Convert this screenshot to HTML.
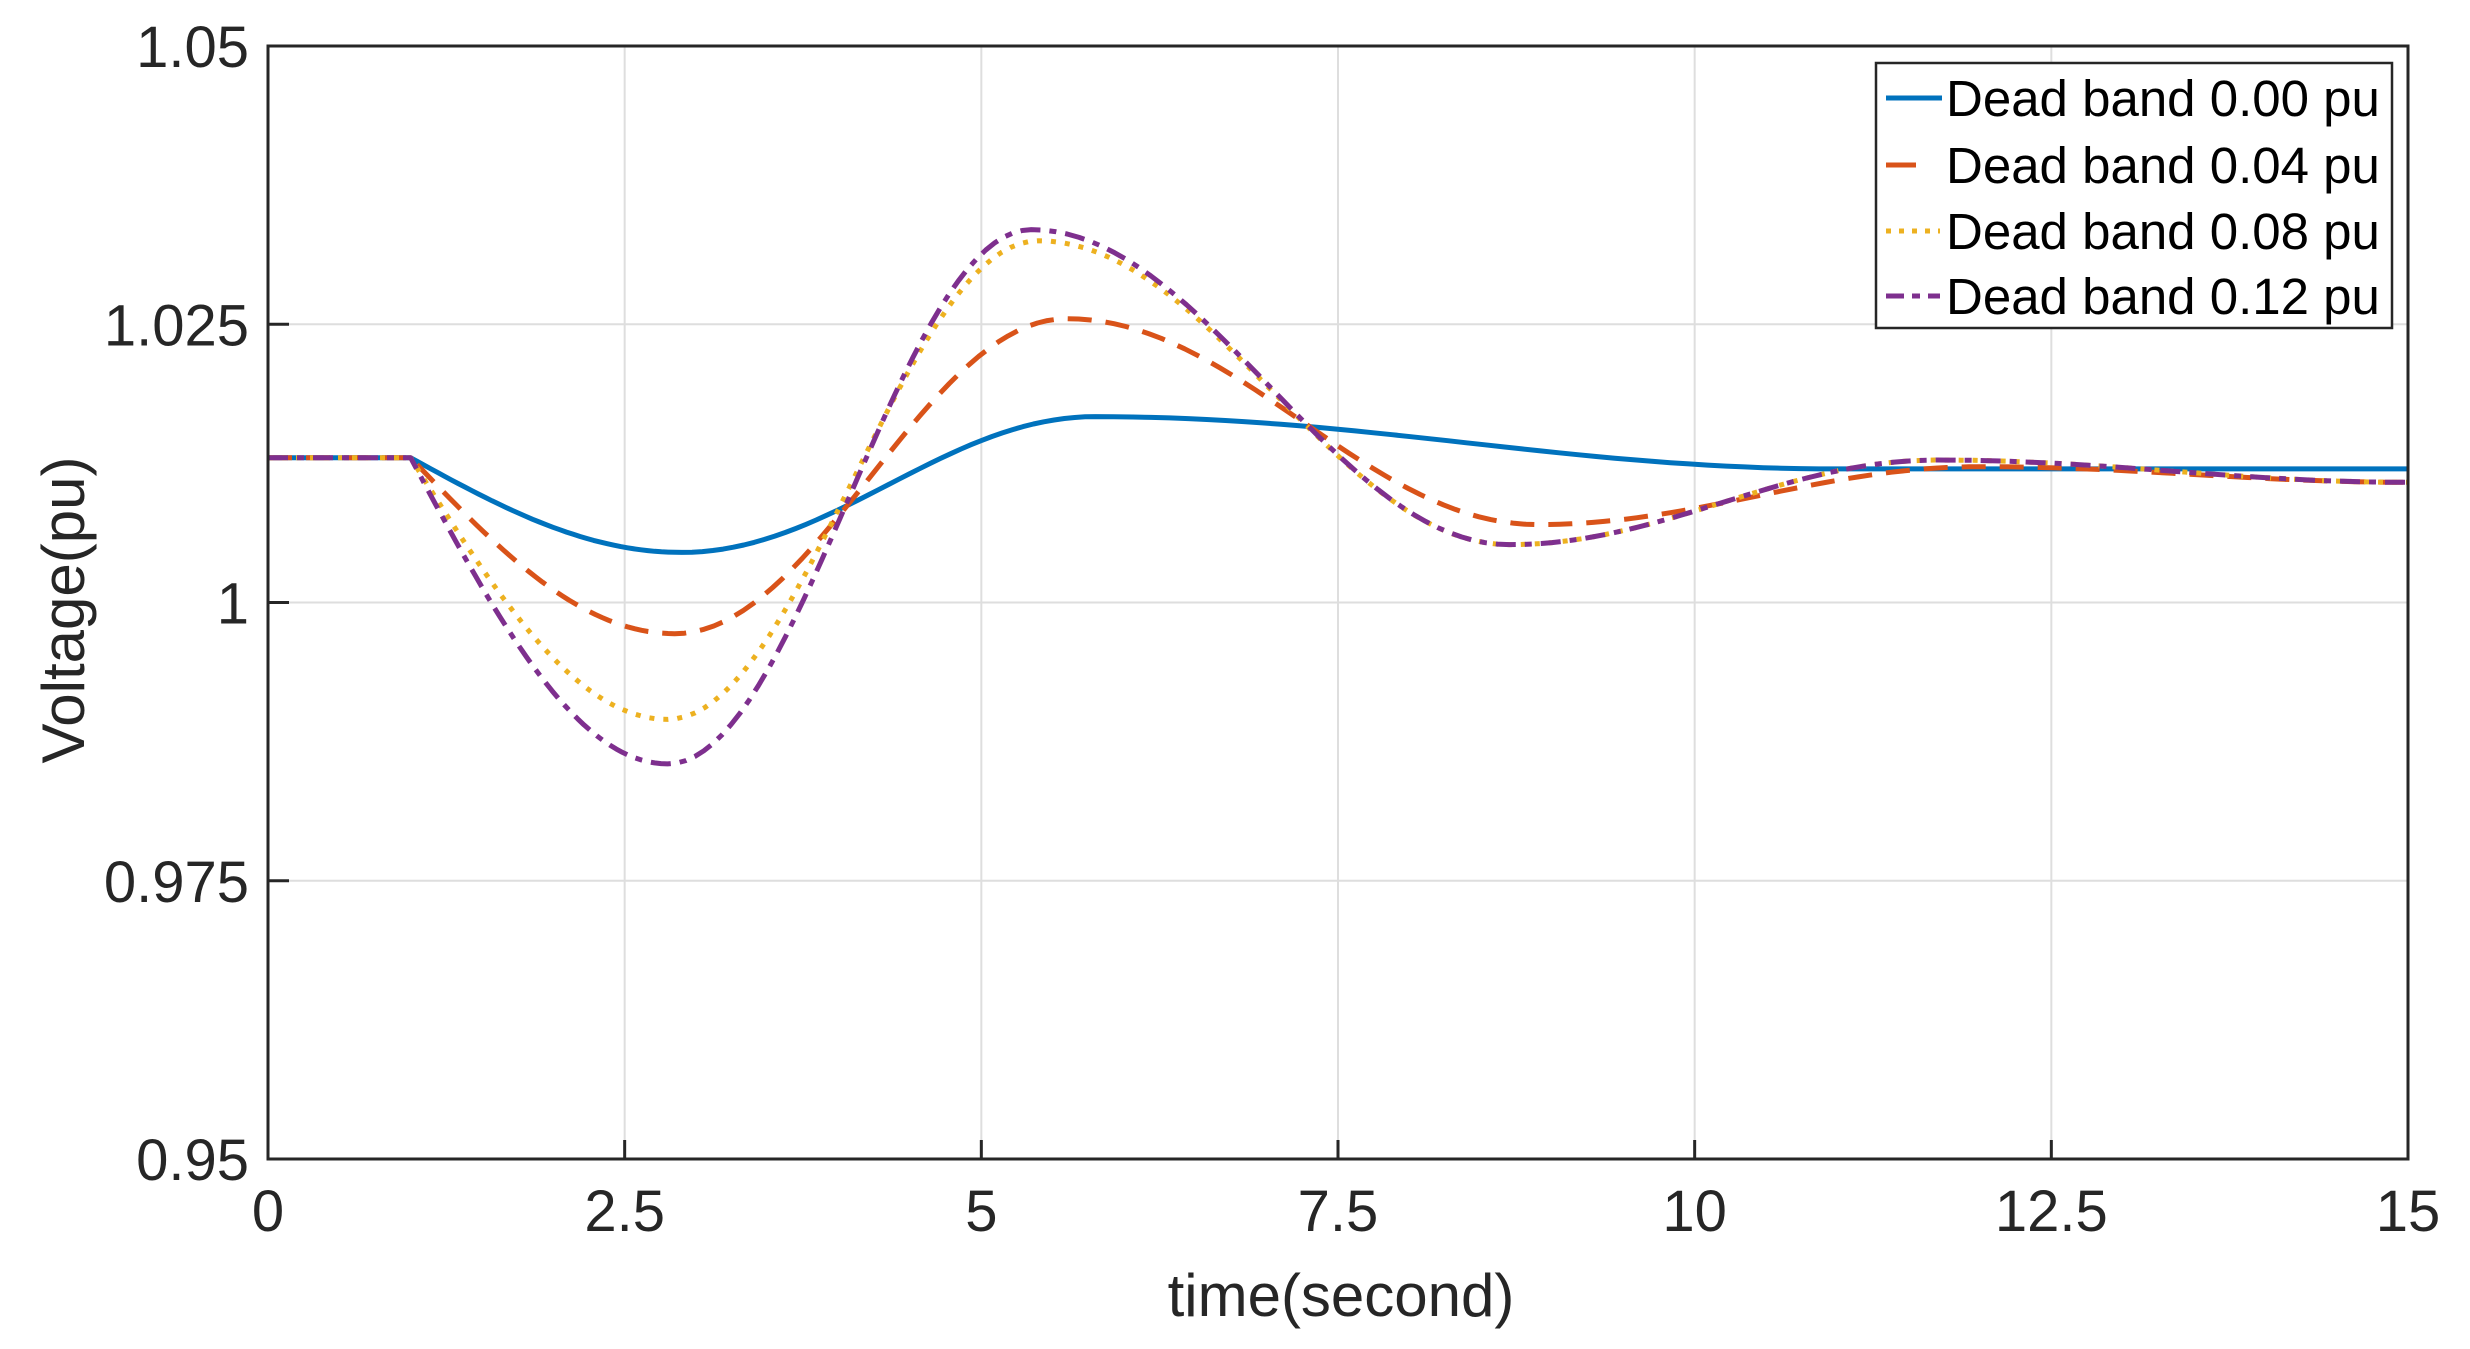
<!DOCTYPE html>
<html><head><meta charset="utf-8"><style>
html,body{margin:0;padding:0;background:#fff;}
svg{display:block;font-family:"Liberation Sans",Arial,sans-serif;}
</style></head><body>
<svg id="s" width="2470" height="1349" viewBox="0 0 2470 1349" xmlns="http://www.w3.org/2000/svg">
<rect width="2470" height="1349" fill="#fff"/>
<g id="grid" stroke="#dedede" stroke-width="2"></g>
<g id="curves" fill="none" stroke-width="5" stroke-linejoin="round"></g>
<rect x="268" y="46" width="2140" height="1113" fill="none" stroke="#262626" stroke-width="3"/>
<g id="ticks" stroke="#262626" stroke-width="3"></g>
<g id="labels" font-size="58" fill="#262626"></g>
<text x="1341" y="1316" font-size="60" fill="#262626" text-anchor="middle">time(second)</text>
<text transform="translate(84,610) rotate(-90)" font-size="60" fill="#262626" text-anchor="middle">Voltage(pu)</text>
<g>
<rect x="1876" y="63" width="516" height="265" fill="#fff" stroke="#262626" stroke-width="2.5"/>
<line x1="1886" y1="98" x2="1942" y2="98" stroke="#0072BD" stroke-width="5"/>
<line x1="1886" y1="165" x2="1916" y2="165" stroke="#D95319" stroke-width="5"/>
<line x1="1886" y1="231" x2="1940" y2="231" stroke="#EDB120" stroke-width="5" stroke-dasharray="5 8"/>
<line x1="1886" y1="296" x2="1940" y2="296" stroke="#7E2F8E" stroke-width="5" stroke-dasharray="18 8 8 8"/>
<g font-size="51" fill="#000">
<text x="1946" y="116">Dead band 0.00 pu</text>
<text x="1946" y="183">Dead band 0.04 pu</text>
<text x="1946" y="249">Dead band 0.08 pu</text>
<text x="1946" y="314">Dead band 0.12 pu</text>
</g>
</g>
</svg>
<script>
const NS="http://www.w3.org/2000/svg";
const X=t=>268+t*2140/15, Y=v=>46+(1.05-v)/0.1*1113;
const g=document.getElementById('grid'),tk=document.getElementById('ticks'),lb=document.getElementById('labels');
function el(p,tag,a,txt){const e=document.createElementNS(NS,tag);for(const k in a)e.setAttribute(k,a[k]);if(txt)e.textContent=txt;p.appendChild(e);return e;}
const xt=[0,2.5,5,7.5,10,12.5,15],xl=["0","2.5","5","7.5","10","12.5","15"];
xt.forEach((t,i)=>{const x=X(t);el(g,'line',{x1:x,y1:46,x2:x,y2:1159});el(tk,'line',{x1:x,y1:1159,x2:x,y2:1140});el(lb,'text',{x:x,y:1231,'text-anchor':'middle'},xl[i]);});
const yt=[1.05,1.025,1,0.975,0.95],yl=["1.05","1.025","1","0.975","0.95"];
yt.forEach((v,i)=>{const y=Y(v);el(g,'line',{x1:268,y1:y,x2:2408,y2:y});el(tk,'line',{x1:268,y1:y,x2:289,y2:y});el(lb,'text',{x:249,y:y+21,'text-anchor':'end'},yl[i]);});
function curve(kp){let pts=[[0,kp[0][1]],[kp[0][0],kp[0][1]]];
 for(let i=0;i<kp.length-1;i++){const [t0,v0]=kp[i],[t1,v1]=kp[i+1];
  for(let s=1;s<=40;s++){const u=s/40;let f;
   if(i==0) f=Math.sin(Math.PI/2*u); else f=(1-Math.cos(Math.PI*u))/2;
   pts.push([t0+(t1-t0)*u,v0+(v1-v0)*f]);}}
 pts.push([15,kp[kp.length-1][1]]);
 return pts.map((p,i)=>(i?'L':'M')+X(p[0]).toFixed(1)+' '+Y(p[1]).toFixed(1)).join(' ');}
const c=document.getElementById('curves');
const S=[
 {col:'#0072BD',da:'',kp:[[1.0,1.013],[2.9,1.0045],[5.8,1.0167],[11,1.012],[15,1.012]]},
 {col:'#D95319',da:'24 14',kp:[[1.0,1.013],[2.85,0.9972],[5.6,1.0255],[8.9,1.007],[12,1.0122],[15,1.0108]]},
 {col:'#EDB120',da:'5 9',kp:[[1.0,1.013],[2.8,0.9895],[5.4,1.0325],[8.7,1.0052],[11.7,1.0128],[15,1.0108]]},
 {col:'#7E2F8E',da:'20 9 7 9',kp:[[1.0,1.013],[2.8,0.9855],[5.35,1.0335],[8.7,1.0052],[11.7,1.0128],[15,1.0108]]}];
S.forEach(s=>{const a={d:curve(s.kp),stroke:s.col};if(s.da)a['stroke-dasharray']=s.da;el(c,'path',a);});
</script>
</body></html>
